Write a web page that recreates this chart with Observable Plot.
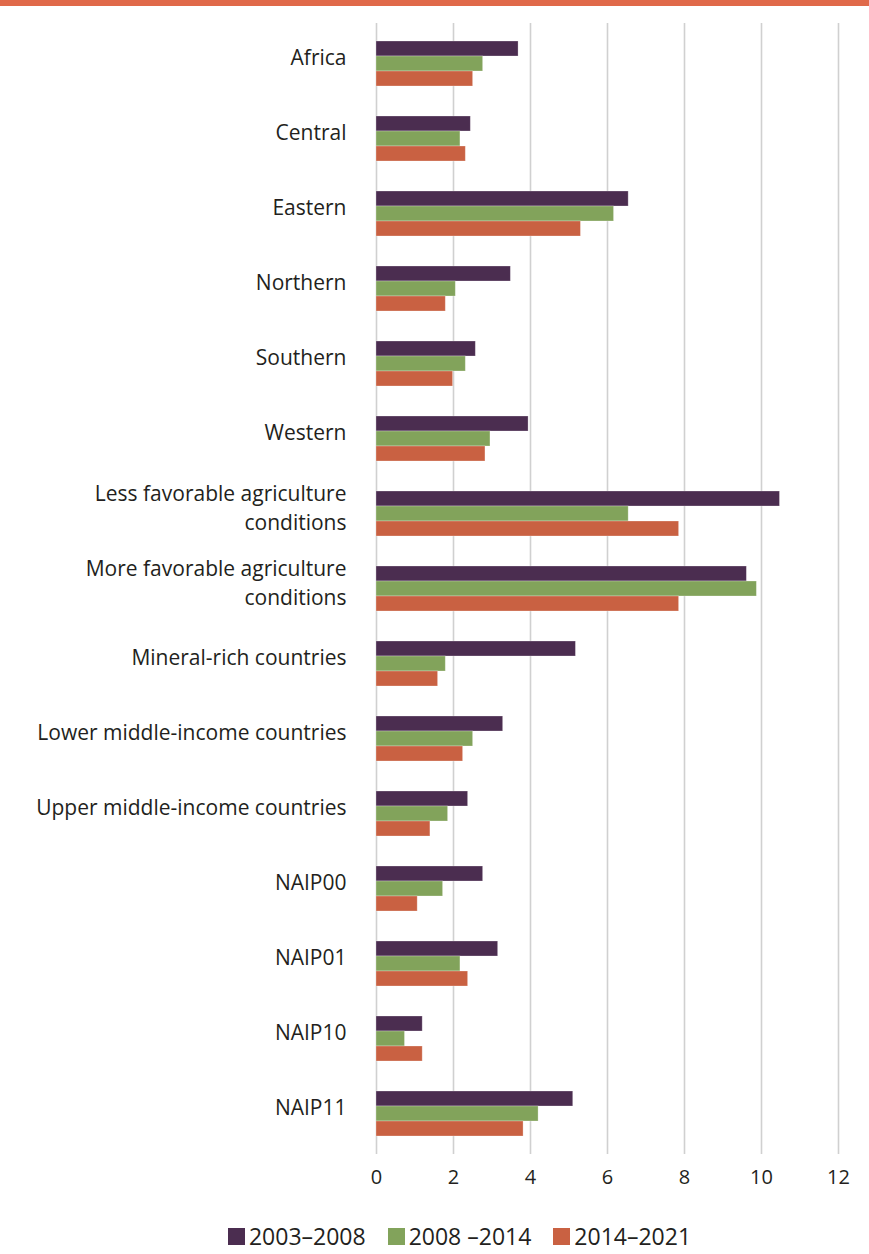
<!DOCTYPE html>
<html>
<head>
<meta charset="utf-8">
<script src="https://cdn.jsdelivr.net/npm/d3@7"></script>
<script src="https://cdn.jsdelivr.net/npm/@observablehq/plot@0.6"></script>
<style>
  html, body { margin: 0; padding: 0; background: #fff; }
  #wrap { position: relative; width: 869px; height: 1254px; overflow: hidden; font-family: "Open Sans", sans-serif; }
  #topbar { position: absolute; left: 0; top: 0; width: 869px; height: 6px; background: #E0694A; }
  #legend { position: absolute; left: 50px; top: 1222px; width: 819px; height: 28px; line-height: 28px; display: flex; justify-content: center; gap: 22px; font-size: 23px; color: #231f20; }
  .item { display: flex; align-items: center; gap: 4px; }
  .sw { width: 17px; height: 17px; display: inline-block; }
</style>
</head>
<body>
<div id="wrap">
  <div id="chart"></div>
  <div id="topbar"></div>
  <div id="legend"></div>
</div>
<script>
const categories = [
  "Africa", "Central", "Eastern", "Northern", "Southern", "Western",
  "Less favorable agriculture\nconditions", "More favorable agriculture\nconditions",
  "Mineral-rich countries", "Lower middle-income countries", "Upper middle-income countries",
  "NAIP00", "NAIP01", "NAIP10", "NAIP11"
];
const seriesNames = ["2003–2008", "2008 –2014", "2014–2021"];
const values2003_2008 = [3.69, 2.45, 6.55, 3.49, 2.58, 3.95, 10.48, 9.62, 5.18, 3.29, 2.38, 2.77, 3.16, 1.20, 5.11];
const values2008_2014 = [2.77, 2.18, 6.17, 2.06, 2.32, 2.96, 6.55, 9.88, 1.80, 2.51, 1.86, 1.73, 2.18, 0.74, 4.21];
const values2014_2021 = [2.51, 2.32, 5.31, 1.80, 1.99, 2.83, 7.86, 7.86, 1.60, 2.25, 1.40, 1.07, 2.38, 1.20, 3.82];
const colors = ["#4B2D50", "#82A35B", "#C96142"];
const xTicks = [0, 2, 4, 6, 8, 10, 12];

const seriesValues = [values2003_2008, values2008_2014, values2014_2021];
const data = [];
seriesValues.forEach((vals, si) => {
  categories.forEach((c, i) => data.push({category: c, series: seriesNames[si], idx: si, value: vals[i]}));
});

const bandH = 45; // approx band inner height
const third = bandH / 3;

const barMarks = seriesNames.map((s, si) => Plot.barX(data.filter(d => d.idx === si), {
  x: "value",
  y: "category",
  fill: colors[si],
  insetTop: si * third,
  insetBottom: (2 - si) * third,
  stroke: "#ffffff",
  strokeOpacity: 0.35,
  strokeWidth: 0.8
}));

const chart = Plot.plot({
  width: 869,
  height: 1200,
  marginTop: 23,
  marginBottom: 46,
  marginLeft: 376,
  marginRight: 31,
  style: {fontFamily: "'Open Sans', sans-serif", color: "#231f20", background: "transparent"},
  x: {domain: [0, 12], ticks: xTicks, label: null},
  y: {domain: categories, paddingInner: 0.4, paddingOuter: 0.2, label: null},
  marks: [
    Plot.gridX(xTicks, {stroke: "#d0d0d0", strokeOpacity: 1, strokeWidth: 1.6}),
    ...barMarks,
    Plot.axisX({ticks: xTicks, tickSize: 0, tickPadding: 15, fontSize: 20, label: null, fill: "#231f20"}),
    Plot.axisY({tickSize: 0, tickPadding: 30, fontSize: 21, label: null, fill: "#231f20", lineHeight: 1.4, dy: -8})
  ]
});
document.getElementById("chart").appendChild(chart);

const legend = document.getElementById("legend");
seriesNames.forEach((s, i) => {
  const it = document.createElement("div");
  it.className = "item";
  const sw = document.createElement("span");
  sw.className = "sw";
  sw.style.background = colors[i];
  const t = document.createElement("span");
  t.textContent = s;
  it.appendChild(sw);
  it.appendChild(t);
  legend.appendChild(it);
});
</script>
</body>
</html>
